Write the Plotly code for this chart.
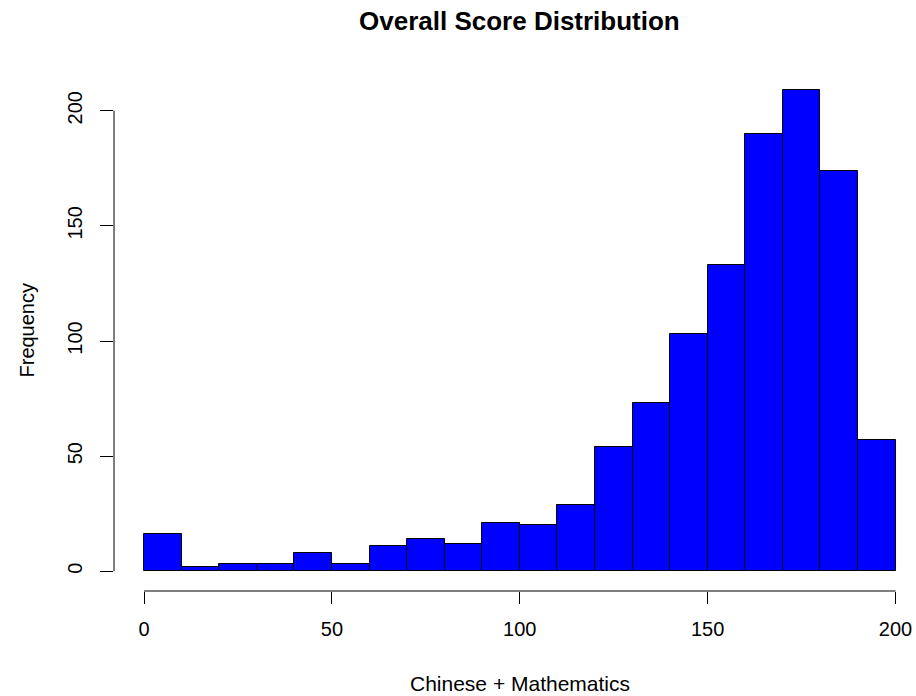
import plotly.graph_objects as go

# Histogram data (R hist, breaks every 10)
bin_edges = [0, 10, 20, 30, 40, 50, 60, 70, 80, 90, 100,
             110, 120, 130, 140, 150, 160, 170, 180, 190, 200]
counts = [16, 2, 3, 3, 8, 3, 11, 14, 12, 21,
          20, 29, 54, 73, 103, 133, 190, 209, 174, 57]
x_ticks = [0, 50, 100, 150, 200]
y_ticks = [0, 50, 100, 150, 200]

title_text = "Overall Score Distribution"
x_title = "Chinese + Mathematics"
y_title = "Frequency"

centers = [(a + b) / 2 for a, b in zip(bin_edges[:-1], bin_edges[1:])]
widths = [b - a for a, b in zip(bin_edges[:-1], bin_edges[1:])]

FONT = "Liberation Sans, Arial, sans-serif"

fig = go.Figure()
fig.add_trace(go.Bar(
    x=centers, y=counts, width=widths,
    marker=dict(color="#0000FF", line=dict(color="black", width=1)),
    showlegend=False, hoverinfo="x+y",
))

W, H = 916, 696
ml, mr, mt, mb = 114, 0, 70, 105
plot_h = H - mt - mb
plot_w = W - ml - mr

fig.update_layout(
    width=W, height=H,
    margin=dict(l=ml, r=mr, t=mt, b=mb, pad=0),
    plot_bgcolor="white", paper_bgcolor="white",
    font=dict(family=FONT, size=20, color="black"),
    bargap=0,
    xaxis=dict(range=[-8, 205.44], tickvals=x_ticks, ticktext=[str(v) for v in x_ticks],
               ticks="outside", ticklen=12, tickwidth=1, tickcolor="black",
               showgrid=False, zeroline=False, showline=False,
               tickfont=dict(size=20, family=FONT), ticklabelstandoff=8),
    yaxis=dict(range=[-8.55, 217.67], tickvals=y_ticks, ticktext=[str(v) for v in y_ticks],
               ticks="outside", ticklen=13, tickwidth=1, tickcolor="black",
               tickangle=-90,
               showgrid=False, zeroline=False, showline=False,
               tickfont=dict(size=20, family=FONT), ticklabelstandoff=10),
    shapes=[
        dict(type="line", xref="x", yref="paper", x0=x_ticks[0], x1=x_ticks[-1], y0=0, y1=0,
             line=dict(color="black", width=1)),
        dict(type="line", xref="paper", yref="y", x0=0, x1=0, y0=y_ticks[0], y1=y_ticks[-1],
             line=dict(color="black", width=1)),
    ],
    annotations=[
        dict(text="<b>" + title_text + "</b>", xref="x", yref="paper",
             x=100, y=1 + (mt - 21) / plot_h, xanchor="center", yanchor="middle",
             showarrow=False, font=dict(size=26, family=FONT, color="black")),
        dict(text=x_title, xref="x", yref="paper",
             x=100, y=-(683 - (H - mb)) / plot_h, xanchor="center", yanchor="middle",
             showarrow=False, font=dict(size=21, family=FONT, color="black")),
        dict(text=y_title, xref="paper", yref="paper",
             x=-(ml - 26) / plot_w, y=0.5, xanchor="center", yanchor="middle",
             textangle=-90, showarrow=False, font=dict(size=20, family=FONT, color="black")),
    ],
)

fig.write_html("out.html",
               config={"displayModeBar": False},
               post_script="document.body.style.margin='0';document.body.style.overflow='hidden';")
